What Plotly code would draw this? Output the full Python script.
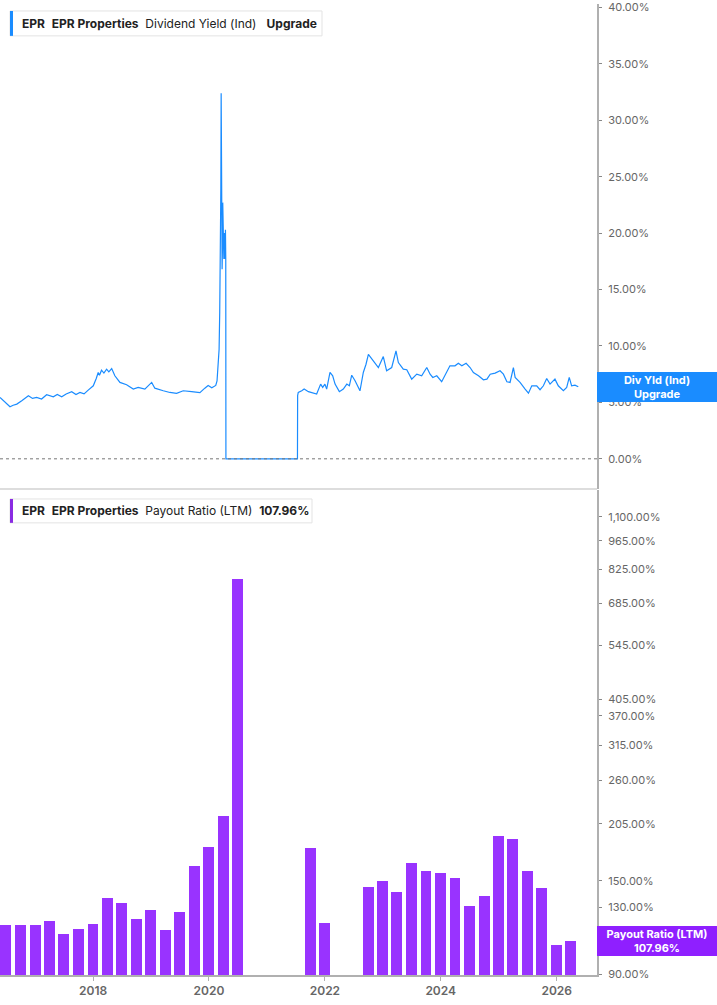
import math
import plotly.graph_objects as go

# ---------------- data ----------------
yield_dates = [
    "2016-05-24", "2016-06-20", "2016-07-26", "2016-08-15", "2016-09-07", "2016-10-08", "2016-11-19",
    "2016-12-15", "2017-01-10", "2017-02-10", "2017-03-14", "2017-04-25", "2017-05-20", "2017-06-17", "2017-07-15", "2017-08-19",
    "2017-09-15", "2017-10-10", "2017-11-05", "2017-12-01", "2018-01-02", "2018-01-20", "2018-02-02", "2018-02-10", "2018-02-23",
    "2018-03-10", "2018-03-27", "2018-04-10", "2018-04-28", "2018-05-18", "2018-06-19", "2018-07-31",
    "2018-09-11", "2018-10-12", "2018-11-23", "2019-01-05", "2019-01-25",
    "2019-03-19", "2019-04-30", "2019-06-11", "2019-07-23", "2019-09-14",
    "2019-11-05", "2019-12-06", "2019-12-27", "2020-01-19", "2020-02-13",
    "2020-02-21", "2020-02-28", "2020-03-05", "2020-03-09", "2020-03-11",
    "2020-03-13", "2020-03-16", "2020-03-18", "2020-03-20", "2020-03-22",
    "2020-03-24", "2020-03-26", "2020-03-28", "2020-04-01", "2020-04-04",
    "2020-04-08", "2020-04-12", "2020-04-14", "2020-04-16", "2020-04-17",
    "2021-07-12", "2021-07-13", "2021-07-17", "2021-08-08", "2021-08-23",
    "2021-09-19", "2021-10-10", "2021-11-10", "2021-12-05", "2021-12-18",
    "2022-01-01", "2022-01-12", "2022-02-02", "2022-02-19", "2022-03-06",
    "2022-04-02", "2022-04-27", "2022-05-19", "2022-06-04", "2022-06-19",
    "2022-07-10", "2022-08-10", "2022-08-31", "2022-09-17", "2022-10-02",
    "2022-11-02", "2022-12-04", "2023-01-04", "2023-01-25", "2023-02-26",
    "2023-03-25", "2023-04-09", "2023-05-10", "2023-06-01", "2023-07-02",
    "2023-08-03", "2023-09-03", "2023-10-05", "2023-10-26", "2023-11-12",
    "2023-12-07", "2024-01-07", "2024-02-03", "2024-02-28", "2024-03-31",
    "2024-04-21", "2024-05-13", "2024-06-09", "2024-07-04", "2024-07-25",
    "2024-08-26", "2024-09-26", "2024-10-18", "2024-11-08", "2024-12-09",
    "2025-01-09", "2025-01-30", "2025-02-21", "2025-03-13", "2025-04-03",
    "2025-04-14", "2025-05-15", "2025-06-16", "2025-07-07", "2025-07-28",
    "2025-08-28", "2025-09-18", "2025-10-09", "2025-10-30", "2025-11-20",
    "2025-12-21", "2026-01-11", "2026-02-12", "2026-03-05", "2026-03-21",
    "2026-04-05", "2026-04-26", "2026-05-17",
]
yield_values = [
    5.44, 5.10, 4.62, 4.75, 4.85, 5.15, 5.59,
    5.35, 5.44, 5.30, 5.68, 5.50, 5.70, 5.50, 5.75, 5.95,
    5.70, 5.88, 5.75, 6.09, 6.47, 7.10, 7.65, 7.40, 7.85,
    7.60, 7.94, 7.70, 8.00, 7.36, 6.77, 6.56,
    6.18, 6.33, 6.18, 6.77, 6.26,
    6.03, 5.88, 5.80, 6.03, 5.95,
    5.86, 6.26, 6.50, 6.30, 6.50,
    6.90, 8.20, 9.70, 13.0, 15.6,
    16.8, 24.0, 32.4, 26.3, 21.0,
    16.8, 18.5, 22.7, 19.0, 17.7,
    20.0, 17.7, 20.3, 17.7, 0.0,
    0.0, 5.60, 5.88, 6.03, 6.18,
    5.95, 5.88, 5.74, 6.62, 6.33,
    6.62, 6.18, 7.65, 7.36, 6.62,
    5.95, 6.18, 6.62, 6.47, 7.41,
    6.92, 6.03, 7.65, 8.38, 9.26,
    8.68, 8.09, 9.06, 7.80, 8.09,
    9.56, 8.53, 7.94, 7.89, 7.06,
    7.50, 7.36, 8.09, 7.50, 7.21,
    7.36, 6.83, 7.50, 8.24, 8.24,
    8.47, 8.24, 8.47, 8.09, 7.65,
    7.36, 7.00, 7.06, 7.50, 7.59,
    7.80, 7.50, 6.83, 6.77, 8.09,
    7.21, 6.77, 6.18, 5.82, 6.47,
    6.47, 6.12, 6.47, 7.12, 6.62,
    7.06, 6.47, 6.03, 6.33, 7.21,
    6.47, 6.53, 6.39,
]

payout_dates = [
    "2016-06-30", "2016-09-30", "2016-12-31", "2017-03-31", "2017-06-30",
    "2017-09-30", "2017-12-31", "2018-03-31", "2018-06-30", "2018-09-30",
    "2018-12-31", "2019-03-31", "2019-06-30", "2019-09-30", "2019-12-31",
    "2020-03-31", "2020-06-30",
    "2021-09-30", "2021-12-31",
    "2022-09-30", "2022-12-31", "2023-03-31", "2023-06-30", "2023-09-30",
    "2023-12-31", "2024-03-31", "2024-06-30", "2024-09-30", "2024-12-31",
    "2025-03-31", "2025-06-30", "2025-09-30", "2025-12-31", "2026-03-31",
]
payout_values = [
    117.6, 117.6, 118.0, 120.2, 112.4,
    115.5, 118.3, 136.3, 133.3, 121.5,
    128.1, 114.4, 126.7, 163.1, 180.9,
    214.2, 784.0,
    179.9, 118.9,
    145.4, 150.3, 141.5, 165.8, 158.8,
    157.1, 152.8, 130.9, 138.5, 192.1,
    189.0, 158.8, 144.6, 105.4, 107.96,
]

yield_ticks = [0, 5, 10, 15, 20, 25, 30, 35, 40]
payout_ticks = [90, 130, 150, 205, 260, 315, 370, 405, 545, 685, 825, 965, 1100]
year_ticks = ["2018-01-01", "2020-01-01", "2022-01-01", "2024-01-01", "2026-01-01"]
year_labels = ["2018", "2020", "2022", "2024", "2026"]

# ---------------- styling ----------------
W, H = 717, 1005
ML, MR, MT, MB = 0, 120, 0, 30
PW, PH = W - ML - MR, H - MT - MB   # plot area 597 x 975

BLUE = "#1a8cff"
PURPLE = "#9933ff"
PURPLE_LBL = "#8f1fff"
AXIS = "#b0b0b0"
TICK = "#666666"
FONT = "Inter"

def px_x(p):
    return p / PW

def px_y(p):
    return 1 - p / PH

split = 487
top_dom = [px_y(split), 1]
bot_dom = [0, px_y(split + 1)]

fig = go.Figure()
fig.add_trace(go.Scatter(
    x=yield_dates, y=yield_values, mode="lines",
    line=dict(color=BLUE, width=1.2),
    xaxis="x", yaxis="y", showlegend=False, hoverinfo="skip",
))
bar_width_ms = 69 * 24 * 3600 * 1000
fig.add_trace(go.Bar(
    x=payout_dates, y=payout_values,
    marker=dict(color=PURPLE, line=dict(width=0)),
    width=[bar_width_ms] * len(payout_dates),
    xaxis="x", yaxis="y2", showlegend=False, hoverinfo="skip",
))

tickfont = dict(family=FONT, size=11, color=TICK)

fig.update_layout(
    width=W, height=H,
    margin=dict(l=ML, r=MR, t=MT, b=MB),
    paper_bgcolor="white", plot_bgcolor="white",
    font=dict(family=FONT),
    bargap=0,
    xaxis=dict(
        anchor="y2", domain=[0, 1],
        type="date", range=["2016-05-24", "2026-09-12"],
        tickvals=year_ticks, ticktext=year_labels,
        ticks="outside", ticklen=4, tickcolor=AXIS, tickwidth=1,
        tickfont=dict(family=FONT, size=12, color=TICK, weight=600),
        showline=True, linecolor=AXIS, linewidth=2,
        showgrid=False, zeroline=False,
    ),
    yaxis=dict(
        domain=top_dom, anchor="x", side="right",
        range=[-2.674, 40.30],
        tickvals=yield_ticks,
        ticktext=[f"{v:.2f}%" for v in yield_ticks],
        ticks="outside", ticklen=3, tickcolor="#888888",
        tickfont=tickfont, ticklabelstandoff=4, ticklabeloverflow="allow",
        showline=True, linecolor=AXIS, linewidth=2,
        showgrid=False, zeroline=False,
    ),
    yaxis2=dict(
        domain=bot_dom, anchor="x", side="right",
        type="log", range=[math.log10(89.66), math.log10(1274.0)],
        tickvals=payout_ticks,
        ticktext=[f"{v:,.2f}%" for v in payout_ticks],
        ticks="outside", ticklen=3, tickcolor="#888888",
        tickfont=tickfont, ticklabelstandoff=4, ticklabeloverflow="allow",
        showline=True, linecolor=AXIS, linewidth=2,
        showgrid=False, zeroline=False,
    ),
)

shapes = []
# separator between panels
shapes.append(dict(type="line", xref="paper", yref="paper",
                   x0=0, x1=1, y0=px_y(split), y1=px_y(split),
                   line=dict(color="#dddddd", width=2)))
# dotted zero line in top panel
shapes.append(dict(type="line", xref="paper", yref="y",
                   x0=0, x1=1, y0=0, y1=0,
                   line=dict(color="#777777", width=1, dash="dot")))

# legend boxes
def legend_box(top, bottom, right, color):
    shapes.append(dict(type="rect", xref="paper", yref="paper",
                       x0=px_x(10), x1=px_x(right), y0=px_y(bottom), y1=px_y(top),
                       line=dict(color="#e3e3e3", width=1), fillcolor="white",
                       layer="above"))
    shapes.append(dict(type="rect", xref="paper", yref="paper",
                       x0=px_x(10), x1=px_x(13), y0=px_y(bottom), y1=px_y(top),
                       line=dict(width=0), fillcolor=color, layer="above"))

legend_box(7, 32, 322, BLUE)
legend_box(497, 521, 312, "#8a2be2")

sp = "&nbsp;&nbsp;"
annotations = [
    dict(xref="paper", yref="paper", x=px_x(20), y=px_y(19.5),
         xanchor="left", yanchor="middle", showarrow=False,
         text=f"<b>EPR</b>{sp}<b>EPR Properties</b>{sp}Dividend Yield (Ind){sp}&nbsp;<b>Upgrade</b>",
         font=dict(family=FONT, size=12, color="#222222")),
    dict(xref="paper", yref="paper", x=px_x(20), y=px_y(509),
         xanchor="left", yanchor="middle", showarrow=False,
         text=f"<b>EPR</b>{sp}<b>EPR Properties</b>{sp}Payout Ratio (LTM){sp}<b>107.96%</b>",
         font=dict(family=FONT, size=12, color="#222222")),
    # right-axis value labels
    dict(xref="paper", yref="y", x=1, y=yield_values[-1],
         xanchor="left", yanchor="middle", showarrow=False,
         text="<b>Div Yld (Ind)</b><br><b>Upgrade</b>",
         bgcolor=BLUE, width=118, borderpad=1, borderwidth=0,
         font=dict(family=FONT, size=11, color="white"), align="center"),
    dict(xref="paper", yref="y2", x=1, y=math.log10(payout_values[-1]),
         xanchor="left", yanchor="middle", showarrow=False,
         text="<b>Payout Ratio (LTM)</b><br><b>107.96%</b>",
         bgcolor=PURPLE_LBL, width=118, borderpad=1, borderwidth=0,
         font=dict(family=FONT, size=11, color="white"), align="center"),
]

fig.update_layout(shapes=shapes, annotations=annotations)
fig.write_html("out.html", config={"displayModeBar": False},
               post_script="document.body.style.margin='0';document.body.style.padding='0';")
